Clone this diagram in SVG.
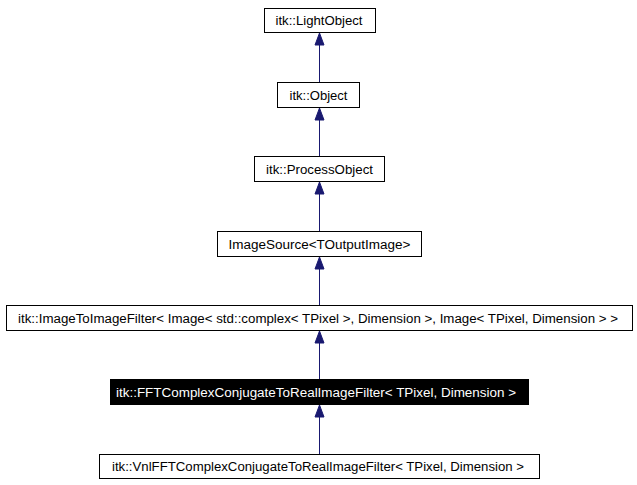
<svg xmlns="http://www.w3.org/2000/svg" width="637" height="485" viewBox="0 0 637 485">
<style>
.box{fill:#fff;stroke:#000;stroke-width:1}
.hl{fill:#000;stroke:#000;stroke-width:1}
text{font-family:"Liberation Sans",Arial,sans-serif;font-size:12.5px;text-anchor:middle}
.w{fill:#fff}
.edge{stroke:#191970;stroke-width:1;fill:none}
.head{fill:#191970;stroke:#191970;stroke-width:1}
</style>
<rect width="637" height="485" fill="#fff"/>
<g id="connectors">
<line class="edge" x1="319.5" y1="82" x2="319.5" y2="44"/>
<polygon class="head" points="319.5,33 315,45 324,45"/>
<line class="edge" x1="319.5" y1="156" x2="319.5" y2="119"/>
<polygon class="head" points="319.5,108 315,120 324,120"/>
<line class="edge" x1="319.5" y1="231" x2="319.5" y2="193"/>
<polygon class="head" points="319.5,182 315,194 324,194"/>
<line class="edge" x1="319.5" y1="305" x2="319.5" y2="268"/>
<polygon class="head" points="319.5,257 315,269 324,269"/>
<line class="edge" x1="319.5" y1="379" x2="319.5" y2="342"/>
<polygon class="head" points="319.5,331 315,343 324,343"/>
<line class="edge" x1="319.5" y1="454" x2="319.5" y2="416"/>
<polygon class="head" points="319.5,405 315,417 324,417"/>
</g>
<g id="n_lightobject"><rect class="box" x="264.5" y="8.5" width="111" height="24"/><text x="319" y="25" textLength="87" lengthAdjust="spacingAndGlyphs">itk::LightObject</text></g>
<g id="n_object"><rect class="box" x="277.5" y="82.5" width="82" height="25"/><text x="318.5" y="99.5" textLength="58" lengthAdjust="spacingAndGlyphs">itk::Object</text></g>
<g id="n_processobject"><rect class="box" x="254.5" y="156.5" width="130" height="25"/><text x="319.5" y="173.5" textLength="107" lengthAdjust="spacingAndGlyphs">itk::ProcessObject</text></g>
<g id="n_imagesource"><rect class="box" x="217.5" y="231.5" width="204" height="25"/><text x="319.5" y="248.5" textLength="182" lengthAdjust="spacingAndGlyphs">ImageSource&lt;TOutputImage&gt;</text></g>
<g id="n_imagetoimage"><rect class="box" x="6.5" y="305.5" width="626" height="25"/><text x="318" y="322.5" textLength="600" lengthAdjust="spacingAndGlyphs">itk::ImageToImageFilter&lt; Image&lt; std::complex&lt; TPixel &gt;, Dimension &gt;, Image&lt; TPixel, Dimension &gt; &gt;</text></g>
<g id="n_fft"><rect class="hl" x="110.5" y="379.5" width="418" height="25"/><text class="w" x="316" y="396.5" textLength="400" lengthAdjust="spacingAndGlyphs">itk::FFTComplexConjugateToRealImageFilter&lt; TPixel, Dimension &gt;</text></g>
<g id="n_vnl"><rect class="box" x="99.5" y="454.5" width="440" height="24"/><text x="318" y="471" textLength="412" lengthAdjust="spacingAndGlyphs">itk::VnlFFTComplexConjugateToRealImageFilter&lt; TPixel, Dimension &gt;</text></g>
</svg>
